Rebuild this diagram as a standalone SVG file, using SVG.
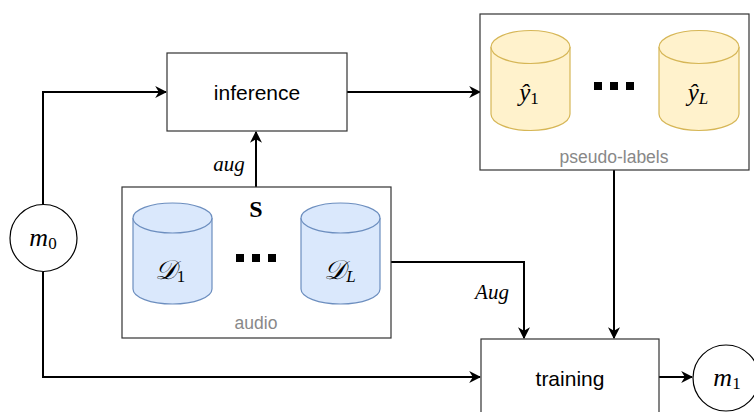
<svg xmlns="http://www.w3.org/2000/svg" width="754" height="412" viewBox="0 0 754 412">
<style>
.box{fill:#fff;stroke:#333;stroke-width:1.2}
.lbl{font-family:"Liberation Sans",Arial,sans-serif;font-size:21px;fill:#000;text-anchor:middle}
.cap{font-family:"Liberation Sans",Arial,sans-serif;font-size:17.5px;fill:#888;text-anchor:middle}
.math{font-family:"Liberation Serif","DejaVu Serif",serif;font-style:italic;fill:#000}
.up{font-style:normal}
.edge{fill:none;stroke:#000;stroke-width:2}
.yc{fill:#fff2cc;stroke:#d6b656;stroke-width:1.2}
.bc{fill:#dae8fc;stroke:#6c8ebf;stroke-width:1.2}
.circ{fill:#fff;stroke:#000;stroke-width:1.2}
</style>
<defs>
<marker id="arr" viewBox="0 0 10 10" refX="9" refY="5" markerWidth="6" markerHeight="6" orient="auto" markerUnits="strokeWidth">
<path d="M0,0 L10,5 L0,10 L3,5 z" fill="#000"/>
</marker>
</defs>

<g id="connectors">
<path class="edge" d="M43,204 V92 H166" marker-end="url(#arr)"/>
<path class="edge" d="M347,92 H480" marker-end="url(#arr)"/>
<path class="edge" d="M256,187 V132" marker-end="url(#arr)"/>
<path class="edge" d="M391,262 H524 V338" marker-end="url(#arr)"/>
<path class="edge" d="M614,170 V338" marker-end="url(#arr)"/>
<path class="edge" d="M43,272 V377 H480" marker-end="url(#arr)"/>
<path class="edge" d="M659,377 H692" marker-end="url(#arr)"/>
<text class="math" x="229" y="171" font-size="21" text-anchor="middle">aug</text>
<text class="math" x="492" y="299" font-size="21" text-anchor="middle">Aug</text>
</g>

<g id="inference">
<rect class="box" x="167" y="53" width="180" height="78"/>
<text class="lbl" x="257" y="100">inference</text>
</g>

<g id="pseudo-labels">
<rect class="box" x="480" y="14" width="269" height="156"/>
<g id="y1">
<path class="yc" d="M491,47 A39.5,16.5 0 0 1 570,47 V114 A39.5,16.5 0 0 1 491,114 Z"/>
<path class="yc" d="M491,47 A39.5,16.5 0 0 0 570,47"/>
<text class="math" x="529" y="101" font-size="25" text-anchor="middle">ŷ<tspan class="up" font-size="17" dy="3">1</tspan></text>
</g>
<g id="dots1" fill="#000">
<rect x="594" y="82" width="8" height="8"/>
<rect x="610" y="82" width="8" height="8"/>
<rect x="626" y="82" width="8" height="8"/>
</g>
<g id="yL">
<path class="yc" d="M659,47 A40,16.5 0 0 1 739,47 V114 A40,16.5 0 0 1 659,114 Z"/>
<path class="yc" d="M659,47 A40,16.5 0 0 0 739,47"/>
<text class="math" x="698" y="101" font-size="25" text-anchor="middle">ŷ<tspan font-size="17" dy="3">L</tspan></text>
</g>
<text class="cap" x="614" y="163">pseudo-labels</text>
</g>

<g id="audio">
<rect class="box" x="122" y="187" width="269" height="151"/>
<text x="256" y="217" font-family="Liberation Serif,DejaVu Serif,serif" font-weight="bold" font-size="24" text-anchor="middle">S</text>
<g id="D1">
<path class="bc" d="M133,218 A39.5,15 0 0 1 212,218 V289 A39.5,15 0 0 1 133,289 Z"/>
<path class="bc" d="M133,218 A39.5,15 0 0 0 212,218"/>
<text class="math" x="170" y="279" font-size="27" text-anchor="middle">𝒟<tspan class="up" font-size="17" dy="3">1</tspan></text>
</g>
<g id="dots2" fill="#000">
<rect x="236" y="254" width="8" height="8"/>
<rect x="252" y="254" width="8" height="8"/>
<rect x="268" y="254" width="8" height="8"/>
</g>
<g id="DL">
<path class="bc" d="M301,218 A39.5,15 0 0 1 380,218 V289 A39.5,15 0 0 1 301,289 Z"/>
<path class="bc" d="M301,218 A39.5,15 0 0 0 380,218"/>
<text class="math" x="340" y="279" font-size="27" text-anchor="middle">𝒟<tspan font-size="17" dy="3">L</tspan></text>
</g>
<text class="cap" x="256" y="329">audio</text>
</g>

<g id="training">
<rect class="box" x="481" y="339" width="178" height="90"/>
<text class="lbl" x="570" y="386">training</text>
</g>

<g id="m0">
<circle class="circ" cx="43.5" cy="238" r="33.5"/>
<text class="math" x="43" y="246" font-size="26" text-anchor="middle">m<tspan class="up" font-size="17" dy="3">0</tspan></text>
</g>

<g id="m1">
<circle class="circ" cx="726" cy="378" r="33"/>
<text class="math" x="727" y="386" font-size="26" text-anchor="middle">m<tspan class="up" font-size="17" dy="3">1</tspan></text>
</g>
</svg>
